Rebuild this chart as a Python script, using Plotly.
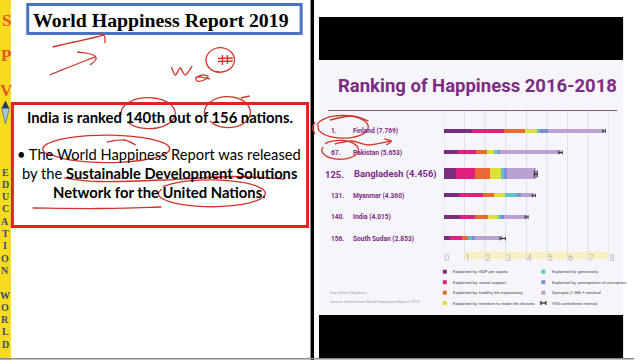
import math
import plotly.graph_objects as go

# ---------------- data ----------------
countries = ["Finland", "Pakistan", "Bangladesh", "Myanmar", "India", "South Sudan"]
ranks = ["1.", "67.", "125.", "131.", "140.", "156."]
scores = [7.769, 5.653, 4.456, 4.360, 4.015, 2.853]
gdp = [1.340, 0.677, 0.562, 0.710, 0.755, 0.306]
social = [1.587, 0.886, 0.928, 1.181, 0.765, 0.575]
health = [0.986, 0.535, 0.723, 0.555, 0.588, 0.295]
freedom = [0.596, 0.313, 0.527, 0.525, 0.498, 0.010]
generosity = [0.153, 0.220, 0.166, 0.566, 0.200, 0.202]
corruption = [0.393, 0.098, 0.143, 0.172, 0.085, 0.091]
dystopia = [2.714, 2.924, 1.407, 0.651, 1.124, 1.374]
ci_half = [0.061, 0.086, 0.066, 0.073, 0.068, 0.127]
highlight = "Bangladesh"
x_ticks = [0, 1, 2, 3, 4, 5, 6, 7, 8]

series_names = [
    "Explained by: GDP per capita",
    "Explained by: social support",
    "Explained by: healthy life expectancy",
    "Explained by: freedom to make life choices",
    "Explained by: generosity",
    "Explained by: perceptions of corruption",
    "Dystopia (1.88) + residual",
]
series_values = [gdp, social, health, freedom, generosity, corruption, dystopia]
series_colors = ["#7b2d80", "#e21f7c", "#ea6a36", "#dce23a", "#5fc3c9", "#7d8fd0", "#b9a2d3"]
ci_label = "95% confidence interval"

left_title = "World Happiness Report 2019"
chart_title = "Ranking of Happiness 2016-2018"
credit_lines = ["Star Online Graphics", "Source: Edited from World Happiness Report 2019"]
side_top = ["S", "P", "V"]
side_bottom = list("EDUCATION") + [""] + list("WORLD")

W, H = 640, 360


def px(x):
    return x / W


def py(y):
    return 1 - y / H


NARROW = "Roboto"
BODY = "Lato, Open Sans, sans-serif"
SERIF = "Liberation Serif, DejaVu Serif, serif"
PURPLE = "#7d2a83"
RED_INK = "#d2342c"

fig = go.Figure()

# stacked bars
bar_w = [0.5 if c == highlight else 0.2 for c in countries]
for name, vals, col in zip(series_names, series_values, series_colors):
    fig.add_trace(go.Bar(
        x=vals, y=countries, orientation="h", name=name, width=bar_w,
        marker=dict(color=col, line=dict(width=0)), showlegend=False,
    ))

# confidence intervals
for big in (False, True):
    idx = [i for i, c in enumerate(countries) if (c == highlight) == big]
    fig.add_trace(go.Scatter(
        x=[scores[i] for i in idx], y=[countries[i] for i in idx], mode="markers",
        marker=dict(size=1, color="rgba(0,0,0,0)"), showlegend=False,
        error_x=dict(type="data", array=[ci_half[i] for i in idx], color="#333",
                     thickness=1.3 if big else 1, width=3.5 if big else 1.8),
    ))

# geometry of the bar area
row0, step = 131.0, 21.5
y_top = row0 - step / 2
y_bot = y_top + step * len(countries)
x0_px, x8_px = 448, 614.7

fig.update_layout(
    width=W, height=H, margin=dict(l=0, r=0, t=0, b=0),
    paper_bgcolor="white", plot_bgcolor="rgba(0,0,0,0)",
    barmode="stack", bargap=0,
    xaxis=dict(domain=[px(x0_px), px(x8_px)], range=[0, 8], showgrid=False, zeroline=False,
               showline=False, tickvals=x_ticks, ticks="", ticklabelshift=3,
               ticklabelstandoff=2,
               tickfont=dict(family=NARROW, size=9, color="#b8b8c4")),
    yaxis=dict(domain=[py(y_bot), py(y_top)], type="category", categoryorder="array",
               categoryarray=countries, range=[len(countries) - 0.5, -0.5],
               showticklabels=False, showgrid=False, zeroline=False, showline=False),
)

shapes = []
ann = []


def rect(x0, y0, x1, y1, fill, line=None, lw=0, layer="below"):
    shapes.append(dict(type="rect", xref="paper", yref="paper", x0=px(x0), x1=px(x1),
                       y0=py(y0), y1=py(y1), fillcolor=fill,
                       line=dict(color=line or fill, width=lw), layer=layer))


def line(x0, y0, x1, y1, color, width=1, layer="below"):
    shapes.append(dict(type="line", xref="paper", yref="paper", x0=px(x0), x1=px(x1),
                       y0=py(y0), y1=py(y1), line=dict(color=color, width=width), layer=layer))


def smooth(pts, color=RED_INK, width=1.3):
    P = [(px(x), py(y)) for x, y in pts]
    d = "M %.5f %.5f" % P[0]
    for i in range(len(P) - 1):
        p0 = P[i - 1] if i > 0 else P[i]
        p1, p2 = P[i], P[i + 1]
        p3 = P[i + 2] if i + 2 < len(P) else P[i + 1]
        c1 = (p1[0] + (p2[0] - p0[0]) / 6, p1[1] + (p2[1] - p0[1]) / 6)
        c2 = (p2[0] - (p3[0] - p1[0]) / 6, p2[1] - (p3[1] - p1[1]) / 6)
        d += " C %.5f %.5f %.5f %.5f %.5f %.5f" % (c1 + c2 + p2)
    shapes.append(dict(type="path", xref="paper", yref="paper", path=d,
                       line=dict(color=color, width=width), layer="above"))


def loop(cx, cy, rx, ry, start=200, sweep=400, n=18, grow=0.12):
    pts = []
    for k in range(n + 1):
        t = math.radians(start + sweep * k / n)
        f = 1 + grow * k / n
        pts.append((cx + rx * f * math.cos(t), cy - ry * f * math.sin(t)))
    smooth(pts)


def text(x, y, s, size, color="black", family=BODY, xa="center", ya="middle", yref="paper"):
    ann.append(dict(x=px(x), y=(py(y) if yref == "paper" else y), xref="paper", yref=yref,
                    text=s, showarrow=False, xanchor=xa, yanchor=ya,
                    font=dict(size=size, color=color, family=family)))


# ---------- left slide ----------
rect(0, 0, 11, 360, "#f6dc1c")
for i, ch in enumerate(side_top):
    text(6.2, 20 + i * 35, "<b>%s</b>" % ch, 17, "#e5562a", SERIF)
for i, ch in enumerate(side_bottom):
    if ch:
        text(5.5, 172 + i * 12.3, "<b>%s</b>" % ch, 10, "#3e4b75", SERIF)
# small gem logo
shapes.append(dict(type="path", xref="paper", yref="paper",
                   path="M %f %f L %f %f L %f %f L %f %f Z" % (px(1.5), py(108), px(9.5), py(108),
                                                           px(5.5), py(124), px(1.5), py(108)),
                   fillcolor="#a9c6de", line=dict(color="#55708f", width=0.8), layer="below"))
shapes.append(dict(type="path", xref="paper", yref="paper",
                   path="M %f %f L %f %f L %f %f Z" % (px(2), py(108), px(5.5), py(101), px(9), py(108)),
                   fillcolor="#2d3a5c", line=dict(color="#2d3a5c", width=0.5), layer="below"))

rect(28, 4.5, 304, 33.5, "white", "#4a74c2", 3)
text(163, 19.5, "<b>%s</b>" % left_title, 19.8, "black", SERIF)

rect(12.5, 103.5, 310.5, 226.5, "white", "#e3211d", 3)
text(162, 117, "<b>India is ranked 140th out of 156 nations.</b>", 14.8)
text(161, 153.5, "• The World Happiness Report was released", 14.7)
text(161, 172.5, "by the <b>Sustainable Development Solutions</b>", 14.7)
text(161, 191.5, "<b>Network for the United Nations</b>.", 14.8)

rect(313.5, 0, 317, 360, "black")
line(0, 358.7, 640, 358.7, "#8a8a8a", 1.5)

# ---------- right slide ----------
rect(322, 17, 629, 60, "black")
rect(322, 60, 629, 315, "#f6f6fa")
rect(322, 315, 629, 358, "black")
text(339, 86, "<b>%s</b>" % chart_title, 18.5, PURPLE, NARROW, xa="left")
line(331, 110.5, 623, 110.5, "#8c4f92", 1.2)

# grid + yellow band behind tick labels
shapes.append(dict(type="rect", xref="x", yref="paper", x0=x_ticks[1], x1=x_ticks[-1],
                   y0=py(259), y1=py(251.5), fillcolor="#fbf0c4", line=dict(width=0), layer="below"))
for v in x_ticks:
    shapes.append(dict(type="line", xref="x", yref="paper", x0=v, x1=v, y0=py(111), y1=py(261),
                       line=dict(color="#dcdce6", width=1), layer="below"))

# row labels
for c, r, s in zip(countries, ranks, scores):
    big = c == highlight
    fs = 9.4 if big else 6.6
    ann.append(dict(x=px(326 if big else 332), y=c, xref="paper", yref="y", text="<b>%s</b>" % r,
                    showarrow=False, xanchor="left", yanchor="middle",
                    font=dict(size=fs, color=PURPLE, family=NARROW)))
    ann.append(dict(x=px(355 if big else 354.5), y=c, xref="paper", yref="y",
                    text="<b>%s (%.3f)</b>" % (c, s), showarrow=False, xanchor="left", yanchor="middle",
                    font=dict(size=fs, color=PURPLE, family=NARROW)))

# manual legend
leg_x = [449, 548.5]
leg_y = [271.7, 282.2, 292.7, 303]
LEG_FS = 4.3
for k, (name, col) in enumerate(zip(series_names, series_colors)):
    cx, cy = leg_x[k // 4], leg_y[k % 4]
    rect(cx - 2, cy - 2, cx + 2, cy + 2, col, layer="above")
    text(cx + 6.5, cy, name, LEG_FS, "#444", NARROW, xa="left")
cx, cy = leg_x[1], leg_y[3]
line(cx - 2.5, cy, cx + 2.5, cy, "#222", 1.2, layer="above")
line(cx - 2.5, cy - 2, cx - 2.5, cy + 2, "#222", 1.2, layer="above")
line(cx + 2.5, cy - 2, cx + 2.5, cy + 2, "#222", 1.2, layer="above")
text(cx + 6.5, cy, ci_label, LEG_FS, "#444", NARROW, xa="left")
for i, s in enumerate(credit_lines):
    text(331, 292.5 + i * 9, s, 4.0, "#a0a0aa", NARROW, xa="left")

# ---------- handwritten red ink ----------
smooth([(53, 47), (75, 42), (95, 37.5), (105, 35)])
smooth([(100, 33), (105.5, 36), (106, 43)])
smooth([(50, 75), (70, 67), (88, 60), (97, 57)])
smooth([(78, 52), (93, 54.5), (97, 59), (91, 65)])
smooth([(173, 67), (177, 75), (182, 68), (187, 75), (194, 66)])
smooth([(197, 78), (204, 75), (210, 76.5), (206, 80), (199, 81), (199, 77), (212, 79)])
loop(222.5, 60, 14, 12, start=250, sweep=380, grow=0.05)
smooth([(224.5, 55), (224.5, 65)])
smooth([(229.5, 55), (229.5, 64)])
smooth([(220, 58.5), (235, 58)])
smooth([(220, 61.5), (235, 61)])

loop(150, 113.5, 26, 15, start=215, sweep=330, grow=0.08)
loop(230, 112.5, 22, 15, start=215, sweep=330, grow=0.08)
smooth([(243, 98), (252, 96)])
loop(108, 149, 62, 13.5, start=200, sweep=370, grow=0.05)
smooth([(108, 142), (125, 140), (137, 145)])
smooth([(65, 178), (100, 181.5), (167, 180), (233, 176.5), (287, 179)])
loop(213, 193.5, 53, 13, start=160, sweep=350, grow=0.06)
smooth([(33, 208), (100, 208.5), (163, 207)])
smooth([(318, 122), (315.5, 128), (318, 134)])

loop(346, 127, 25, 11, start=170, sweep=360, grow=0.06)
smooth([(333, 120), (355, 116), (372, 121)])
loop(343, 150, 18, 9, start=160, sweep=340, grow=0.08)
smooth([(338, 144), (355, 141), (372, 145), (395, 141)])
smooth([(388, 139), (395, 141), (390, 145)])

fig.update_layout(shapes=shapes, annotations=ann)
fig.write_html("out.html")
